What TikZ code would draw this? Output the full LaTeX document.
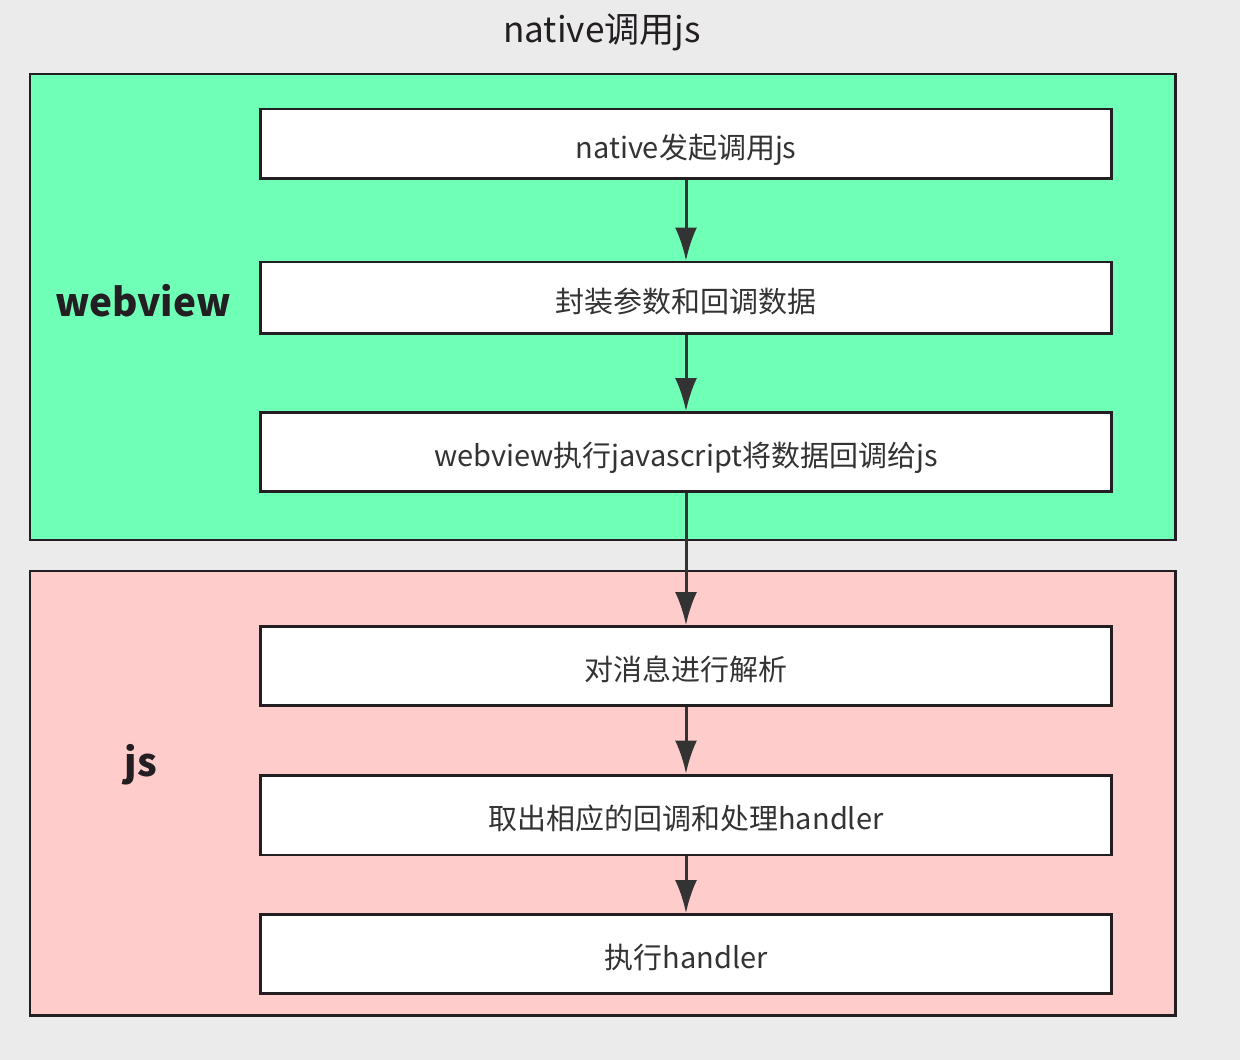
\documentclass[tikz,border=0pt]{standalone}
\usepackage{fontspec}
\setmainfont{Noto Sans CJK SC}
\usepackage{tikz}
\usetikzlibrary{arrows.meta, positioning}
\definecolor{mybg}{RGB}{235, 235, 235}
\definecolor{mygreen}{RGB}{112, 255, 182}
\definecolor{mypink}{RGB}{255, 204, 204}
\definecolor{myline}{RGB}{34, 30, 34}
\definecolor{myarrow}{RGB}{51, 51, 51}
\tikzset{
  stepbox/.style = {draw = myline, fill = white, line width = 1.7pt, minimum width = 17.02cm, inner sep = 0pt, text height = 17pt, text depth = 0pt, font = \fontsize{16.5pt}{18pt}\selectfont, text = myarrow},
  flow/.style = {draw = myarrow, line width = 1.7pt, -{Latex[length=0.66cm, width=0.44cm]}},
  grouplabel/.style = {font = \fontsize{22pt}{24pt}\selectfont\bfseries, text = myline}
}

\begin{document}
\begin{tikzpicture}[x = 0.02cm, y = -0.02cm]
\fill[mybg] (0,0) rectangle (1240,1060);
\useasboundingbox (0,0) rectangle (1240,1060);

\node (title) at (602, 32) {\fontsize{20pt}{22pt}\selectfont\color{myline}native调用js};

\draw[fill = mygreen, draw = myline, line width = 1.7pt] (30,74) rectangle (1175,540);
\draw[fill = mypink, draw = myline, line width = 1.7pt] (30,571) rectangle (1175,1015);
\node[grouplabel] (webview) at (143, 301) {webview};
\node[grouplabel] (js) at (141, 765) {js};

\node[stepbox, minimum height = 1.4cm] (call) at (686, 144) {native发起调用js};
\node[stepbox, minimum height = 1.44cm] (pack) at (686, 298) {封装参数和回调数据};
\node[stepbox, minimum height = 1.58cm] (exec) at (686, 452) {webview执行javascript将数据回调给js};
\node[stepbox, minimum height = 1.58cm] (parse) at (686, 666) {对消息进行解析};
\node[stepbox, minimum height = 1.6cm] (fetch) at (686, 815) {取出相应的回调和处理handler};
\node[stepbox, minimum height = 1.58cm] (handler) at (686, 954) {执行handler};

\draw[flow] (call) -- (pack);
\draw[flow] (pack) -- (exec);
\draw[flow] (exec) -- (parse);
\draw[flow] (parse) -- (fetch);
\draw[flow] (fetch) -- (handler);
\end{tikzpicture}
\end{document}
